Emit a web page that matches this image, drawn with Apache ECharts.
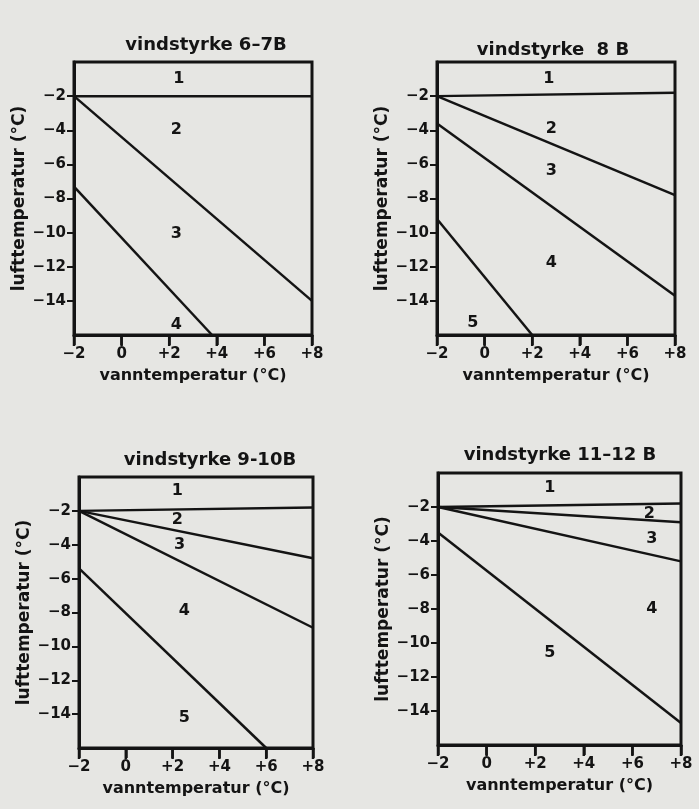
<!DOCTYPE html>
<html>
<head>
<meta charset="utf-8">
<script src="https://cdn.jsdelivr.net/npm/echarts@6/dist/echarts.min.js"></script>
<style>
html, body { margin: 0; padding: 0; background: #e6e6e3; }
#main { width: 699px; height: 809px; }
</style>
</head>
<body>
<div id="main"></div>
<script>
// akser (felles for alle fire diagram)
var xTicks = [-2, 0, 2, 4, 6, 8];
var yTicks = [-2, -4, -6, -8, -10, -12, -14];

// titler
var titles = ['vindstyrke 6–7B', 'vindstyrke  8 B', 'vindstyrke 9-10B', 'vindstyrke 11–12 B'];

// grenselinjer, [x, y] endepunkter
var lines67 = [
	[[-2, -2], [8, -2]],
	[[-2, -2], [8, -14]],
	[[-2, -7.3], [3.8, -16]]
];
var lines8 = [
	[[-2, -2], [8, -1.8]],
	[[-2, -2], [8, -7.8]],
	[[-2, -3.6], [8, -13.7]],
	[[-2, -9.2], [2, -16]]
];
var lines910 = [
	[[-2, -2], [8, -1.8]],
	[[-2, -2], [8, -4.8]],
	[[-2, -2], [8, -8.9]],
	[[-2, -5.4], [6, -16]]
];
var lines1112 = [
	[[-2, -2], [8, -1.8]],
	[[-2, -2], [8, -2.9]],
	[[-2, -2], [8, -5.2]],
	[[-2, -3.5], [8, -14.7]]
];

// sonenummer [x, y, tekst]
var zones67 = [[2.4, -1, '1'], [2.3, -4, '2'], [2.3, -10.1, '3'], [2.3, -15.4, '4']];
var zones8 = [[2.7, -1, '1'], [2.8, -3.9, '2'], [2.8, -6.4, '3'], [2.8, -11.8, '4'], [-0.5, -15.3, '5']];
var zones910 = [[2.2, -0.8, '1'], [2.2, -2.5, '2'], [2.3, -4, '3'], [2.5, -7.9, '4'], [2.5, -14.2, '5']];
var zones1112 = [[2.6, -0.9, '1'], [6.7, -2.4, '2'], [6.8, -3.9, '3'], [6.8, -8, '4'], [2.6, -10.6, '5']];

var allLines = [lines67, lines8, lines910, lines1112];
var allZones = [zones67, zones8, zones910, zones1112];

// plassering av de fire plottene
var boxes = [
	{ left: 74, top: 62, width: 238, height: 273, titleX: 201, titleY: 31 },
	{ left: 437, top: 62, width: 238, height: 273, titleX: 548, titleY: 36 },
	{ left: 79, top: 477, width: 234, height: 271, titleX: 205, titleY: 446 },
	{ left: 438, top: 473, width: 243, height: 272, titleX: 555, titleY: 441 }
];

var ink = '#141414';
var font = 'DejaVu Sans';

var grid = [], xAxis = [], yAxis = [], series = [], title = [];

boxes.forEach(function(b, i) {
	grid.push({
		left: b.left, top: b.top, width: b.width, height: b.height,
		show: true, borderColor: ink, borderWidth: 3, backgroundColor: 'transparent'
	});
	title.push({
		text: titles[i], left: b.titleX, top: b.titleY, textAlign: 'center',
		textStyle: { fontFamily: font, fontSize: 18, fontWeight: 'bold', color: ink }
	});
	xAxis.push({
		type: 'value', gridIndex: i, position: 'bottom', min: -2, max: 8, interval: 2,
		name: 'vanntemperatur (°C)', nameLocation: 'middle', nameGap: 33,
		nameTextStyle: { fontFamily: font, fontSize: 16, fontWeight: 'bold', color: ink },
		axisLine: { show: true, onZero: false, lineStyle: { color: ink, width: 3 } },
		axisTick: { show: true, inside: false, length: 10, lineStyle: { color: ink, width: 2.5 } },
		axisLabel: {
			show: true, margin: 12, fontFamily: font, fontSize: 15, fontWeight: 'bold', color: ink,
			formatter: function(v) { return v > 0 ? '+' + v : (v < 0 ? '−' + (-v) : '' + v); }
		},
		splitLine: { show: false }
	});
	yAxis.push({
		type: 'value', gridIndex: i, position: 'left', min: -16, max: 0, interval: 2,
		name: 'lufttemperatur (°C)', nameLocation: 'middle', nameGap: 46, nameRotate: 90,
		nameTextStyle: { fontFamily: font, fontSize: 17, fontWeight: 'bold', color: ink },
		axisLine: { show: true, onZero: false, lineStyle: { color: ink, width: 3 } },
		axisTick: { show: true, inside: false, length: 7, customValues: yTicks, lineStyle: { color: ink, width: 2 } },
		axisLabel: {
			margin: 8, fontFamily: font, fontSize: 15, fontWeight: 'bold', color: ink,
			customValues: yTicks,
			formatter: function(v) { return '−' + (-v); }
		},
		splitLine: { show: false }
	});
	allLines[i].forEach(function(seg) {
		series.push({
			type: 'line', xAxisIndex: i, yAxisIndex: i, data: seg,
			symbol: 'none', silent: true,
			lineStyle: { color: ink, width: 2.5 }
		});
	});
	// x-aksens tikkstreker under bunnlinja
	series.push({
		type: 'scatter', xAxisIndex: i, yAxisIndex: i, clip: false, silent: true, z: 5,
		data: xTicks.map(function(v) { return [v, -16]; }),
		symbol: 'rect', symbolSize: [2.5, 10], symbolOffset: [0, 6],
		itemStyle: { color: ink, opacity: 1 }
	});
	series.push({
		type: 'scatter', xAxisIndex: i, yAxisIndex: i, data: allZones[i],
		symbolSize: 0, silent: true, itemStyle: { color: ink, opacity: 1 },
		label: {
			show: true, position: 'inside',
			formatter: function(p) { return p.data[2]; },
			fontFamily: font, fontSize: 16, fontWeight: 'bold', color: ink
		}
	});
});

var myChart = echarts.init(document.getElementById('main'));
myChart.setOption({
	backgroundColor: '#e6e6e3',
	animation: false,
	title: title,
	grid: grid,
	xAxis: xAxis,
	yAxis: yAxis,
	series: series
});
</script>
</body>
</html>
